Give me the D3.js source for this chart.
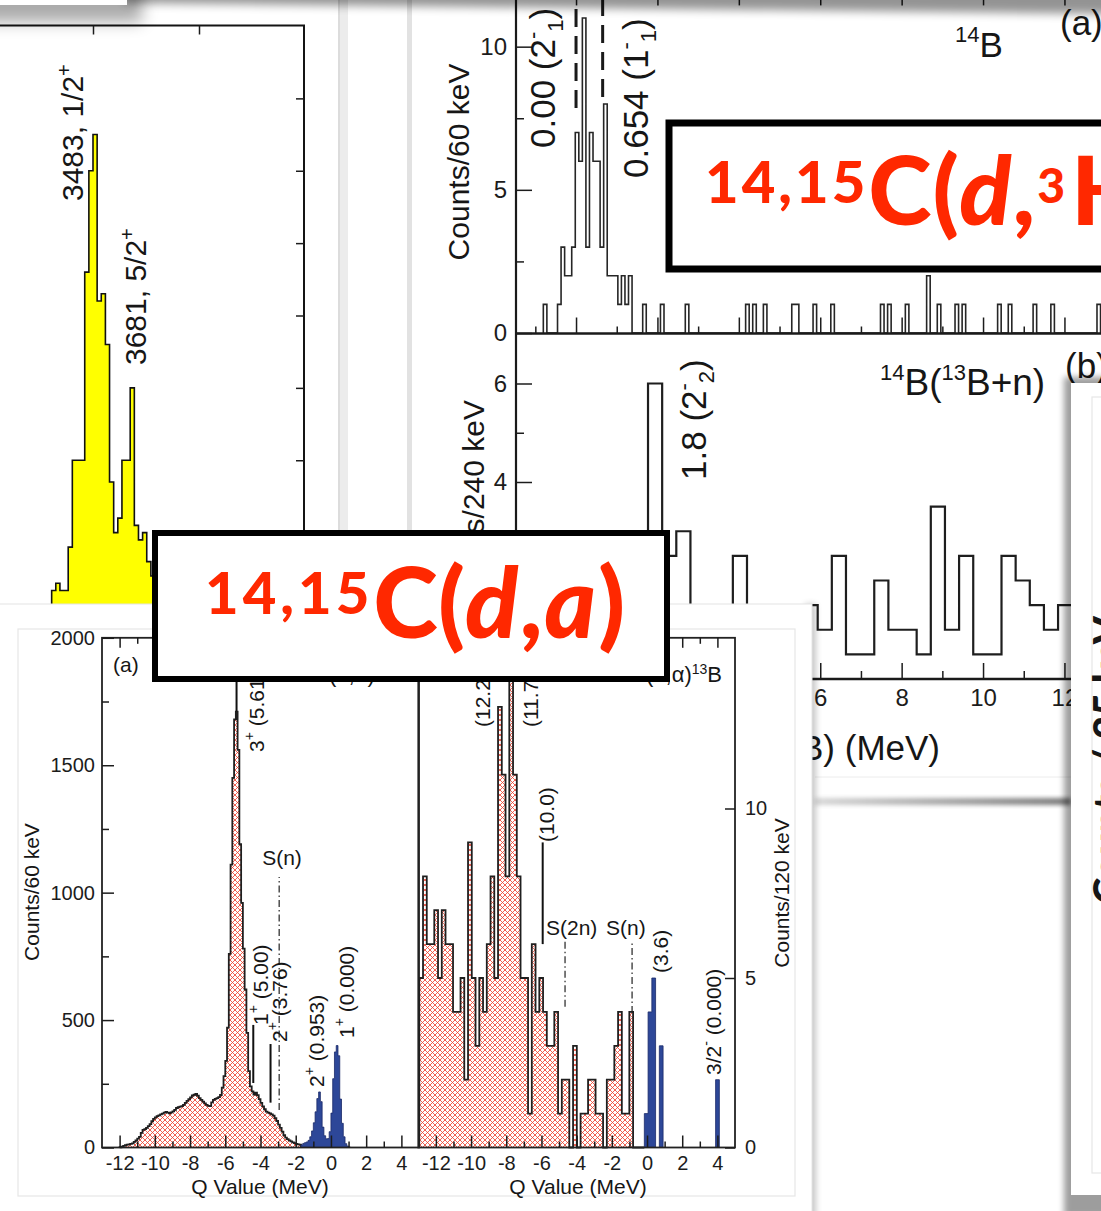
<!DOCTYPE html>
<html>
<head>
<meta charset="utf-8">
<title>Transfer-reaction spectra</title>
<script src="https://cdn.jsdelivr.net/npm/d3@7"></script>
<style>
  html, body { margin: 0; padding: 0; background: #fff; }
  svg { display: block; font-family: "Liberation Sans", Arial, Helvetica, sans-serif; }
</style>
</head>
<body>
<script>
// ---------------- data ----------------
// yellow spectrum: excitation energy (keV), fixed-width bins
const ySpecStart = 3305;
const ySpecBin = 19.5;
const ySpecCounts = [2, 3, 2, 2, 8, 20, 20, 20, 46, 60, 65, 42, 43, 36, 17, 10, 12, 20, 20, 30, 11, 9, 10, 6, 4, 3, 2, 1];
const ySpecTicksX = [3500, 4000];
const ySpecTicksY = [10, 20, 30, 40, 50, 60, 70];
const ySpecStates = ["3483, 1/2", "3681, 5/2"];

// 14B excitation spectrum (non-empty bins only)
const b14BinWidth = 0.0872;
const b14Energy = [-0.76, -0.41, -0.32, -0.24, -0.15, -0.06, 0.02, 0.11, 0.20, 0.29,
                   0.37, 0.46, 0.55, 0.64, 0.72, 0.81, 0.90, 0.98, 1.07, 1.16,
                   1.25, 1.33, 1.67, 2.13, 2.74, 4.18, 4.37, 4.62, 5.34, 5.43,
                   5.86, 6.28, 7.50, 7.67, 8.12, 8.64, 8.91, 9.32, 9.50, 10.38,
                   10.64, 11.25, 11.69, 12.81];
const b14Counts = [1, 1, 3, 2, 2, 3, 7, 6, 11, 3,
                   7, 6, 6, 3, 8, 2, 2, 2, 1, 2,
                   1, 2, 1, 1, 1, 1, 1, 1, 1, 1,
                   1, 1, 1, 1, 1, 2, 1, 1, 1, 1,
                   1, 1, 1, 1];
const b14StateEnergy = [0.00, 0.654];
const b14StateText = ["0.00 (2", "0.654 (1"];

// 14B -> 13B + n
const b13nStart = -1.358;
const b13nBin = 0.3474;
const b13nCounts = [0, 0.5, 1, 0.5, 1, 1.5, 1, 2, 2.5,
                    6, 2.5, 3, 1, 0.5, 1, 2.5, 1, 0.5, 1, 0.5, 1.5, 1, 2.5, 0.5, 0.5,
                    2, 1, 1, 0.5, 3.5, 1, 2.5, 0.5, 0.5, 2.5, 2, 1.5, 1, 1.5, 1];

const mevTicks = [0, 2, 4, 6, 8, 10, 12];

// 14C(d,alpha)12B Q-value spectrum, 0.1 MeV bins from -12 MeV
const c14Start = -12.0;
const c14Bin = 0.1;
const c14Counts = [
  1, 3, 6, 9, 11, 12, 14, 16, 22, 28,
  35, 42, 57, 69, 72, 77, 84, 92, 103, 112,
  118, 123, 126, 130, 133, 137, 140, 137, 134, 138,
  142, 148, 155, 158, 160, 162, 167, 175, 183, 190,
  197, 204, 207, 210, 203, 194, 187, 180, 173, 167,
  163, 162, 177, 187, 191, 194, 198, 206, 235, 280,
  340, 470, 760, 1110, 1450, 1680, 1710, 1560, 1190, 960,
  780, 620, 450, 300, 240, 220, 208, 215, 205, 190,
  175, 161, 150, 141, 137, 134, 130, 125, 115, 104,
  90, 77, 62, 48, 39, 33, 28, 24, 20, 17,
  14, 12, 11, 10, 16, 19, 22, 28, 42, 65,
  97, 140, 192, 218, 180, 80, 46, 34, 35, 62,
  135, 270, 375, 400, 360, 190, 95, 42, 15, 6,
  2, 0];
const c14BoundQ = -1.7;

// 15C(d,alpha)13B Q-value spectrum
const c15Start = -12.945;
const c15Bin = 0.2132;
const c15Counts = [
  5, 8, 6, 6, 7, 5, 7, 6, 6, 4, 4, 5, 2, 9, 5, 3, 5, 4, 6, 8,
  5, 13, 11, 8, 15, 11, 8, 5, 5, 1, 6, 4, 5, 4, 3, 3, 4, 1, 2, 2,
  0, 3, 0, 1, 1, 2, 2, 1, 1, 0, 2, 2, 3, 4, 1, 1, 4, 0, 0, 0,
  1, 4, 5, 0, 3, 0, 0, 0, 0, 0, 0, 0, 0, 0, 0, 0, 0, 0, 0, 2];
const c15BoundQ = -0.153;

const qMajor = [-12, -10, -8, -6, -4, -2, 0, 2, 4];
const qMinor = [-11, -9, -7, -5, -3, -1, 1, 3];

// marker lines: Q position, count range
const c14Levels = [{q: -5.36, lo: 1712, hi: 2150}, {q: -4.41, lo: 253, hi: 481}, {q: -3.43, lo: 176, hi: 406}];
const c14Sn = {q: -2.94, lo: 147, hi: 1061};
const c15Levels = [{q: -5.93, lo: 6, hi: 9}];
const c15Sep = [{q: -4.66, lo: 4.15, hi: 6.07}, {q: -0.85, lo: 3.97, hi: 6.07}];

// ---------------- helpers ----------------
const W = 1101, H = 1211;
const svg = d3.select("body").append("svg").attr("width", W).attr("height", H);
const defs = svg.append("defs");

function blur(id, sd) {
  defs.append("filter").attr("id", id)
    .attr("x", "-50%").attr("y", "-50%").attr("width", "200%").attr("height", "200%")
    .append("feGaussianBlur").attr("stdDeviation", sd);
}
blur("b2", 2); blur("b3", 3); blur("b5", 5); blur("b8", 8);

const hatch = defs.append("pattern").attr("id", "hatch")
  .attr("patternUnits", "userSpaceOnUse").attr("width", 5).attr("height", 5);
hatch.append("rect").attr("width", 5).attr("height", 5).attr("fill", "#fff");
hatch.append("path").attr("d", "M0,0L5,5M5,0L0,5").attr("stroke", "#ee4634").attr("stroke-width", 0.85);

const band = defs.append("linearGradient").attr("id", "bandGrad");
band.append("stop").attr("offset", "0%").attr("stop-color", "#d8d8d8");
band.append("stop").attr("offset", "100%").attr("stop-color", "#7a7a7a");

function stepPts(start, bin, counts, i0 = 0, i1 = counts.length) {
  const p = [[start + i0 * bin, 0]];
  for (let i = i0; i < i1; i++) p.push([start + i * bin, counts[i]]);
  p.push([start + i1 * bin, counts[i1 - 1]]);
  p.push([start + i1 * bin, 0]);
  return p;
}
function stepLine(x, y) {
  return d3.line().curve(d3.curveStepAfter).x(d => x(d[0])).y(d => y(d[1]));
}
function stepArea(x, y) {
  return d3.area().curve(d3.curveStepAfter).x(d => x(d[0])).y0(y(0)).y1(d => y(d[1]));
}

// text with raised / lowered pieces; parts are strings or {t, up, size, italic, ls}
function label(g, x, y, parts, o = {}) {
  const t = g.append("text")
    .attr("transform", `translate(${x},${y})` + (o.rot ? ` rotate(${o.rot})` : ""))
    .attr("font-size", o.size || 20)
    .attr("text-anchor", o.anchor || "start")
    .attr("fill", o.fill || "#161616");
  if (o.weight) t.attr("font-weight", o.weight);
  if (o.family) t.attr("font-family", o.family);
  if (o.ls) t.attr("letter-spacing", o.ls);
  let prev = 0;
  parts.forEach(p => {
    if (typeof p === "string") p = {t: p};
    const up = p.up || 0;
    const s = t.append("tspan").text(p.t);
    if (up !== prev) s.attr("dy", prev - up);
    if (p.size) s.attr("font-size", p.size);
    if (p.italic) s.attr("font-style", "italic");
    if (p.ls !== undefined) s.attr("letter-spacing", p.ls);
    prev = up;
  });
  return t;
}

const fmt = d => String(d);
function styleAxis(g, size) {
  g.attr("font-family", null).attr("font-size", size).attr("color", "#1c1c1c");
  g.select(".domain").remove();
  g.selectAll(".tick line").attr("stroke-width", 1.5);
}

// ---------------- page decorations behind figures ----------------
svg.append("rect").attr("x", 338).attr("y", 0).attr("width", 10).attr("height", 605).attr("fill", "#ececec");
svg.append("rect").attr("x", 338).attr("y", 0).attr("width", 2).attr("height", 605).attr("fill", "#dcdcdc");
svg.append("rect").attr("x", 407).attr("y", 0).attr("width", 5).attr("height", 605).attr("fill", "#e2e2e2");

// ---------------- 14B figure (top right) ----------------
const gTR = svg.append("g");
const xq = d3.scaleLinear().domain([-1.475, 13.5]).range([516, 1125.5]);
const ya = d3.scaleLinear().domain([0, 12]).range([333, -10.6]);
const yb = d3.scaleLinear().domain([0, 7]).range([679, 334.25]);

// panel (a) histogram on a regular bin grid
(function () {
  const origin = b14Energy[0];
  const n = Math.round((b14Energy[b14Energy.length - 1] - origin) / b14BinWidth) + 3;
  const dense = new Array(n).fill(0);
  b14Energy.forEach((e, i) => { dense[Math.round((e - origin) / b14BinWidth)] = b14Counts[i]; });
  gTR.append("path")
    .attr("d", stepLine(xq, ya)(stepPts(origin - b14BinWidth / 2, b14BinWidth, dense)))
    .attr("fill", "none").attr("stroke", "#262626").attr("stroke-width", 1.6);
})();

// panel (b) histogram
gTR.append("path")
  .attr("d", stepLine(xq, yb)(stepPts(b13nStart, b13nBin, b13nCounts)))
  .attr("fill", "none").attr("stroke", "#1e1e1e").attr("stroke-width", 2.2);

// frame
gTR.append("line").attr("x1", 516).attr("x2", 516).attr("y1", -12).attr("y2", 679)
  .attr("stroke", "#1a1a1a").attr("stroke-width", 2.2);
gTR.append("line").attr("x1", 516).attr("x2", 1125).attr("y1", 333.5).attr("y2", 333.5)
  .attr("stroke", "#1a1a1a").attr("stroke-width", 2.6);
gTR.append("line").attr("x1", 516).attr("x2", 1125).attr("y1", 679).attr("y2", 679)
  .attr("stroke", "#1a1a1a").attr("stroke-width", 2.4);

// ticks panel (a)
gTR.append("g").attr("transform", "translate(516,0)")
  .call(d3.axisLeft(ya).tickValues([0, 5, 10]).tickSize(-16).tickPadding(9).tickFormat(fmt))
  .call(g => styleAxis(g, 24));
gTR.append("g").attr("transform", "translate(516,0)")
  .call(d3.axisLeft(ya).tickValues([2.5, 7.5]).tickSize(-8).tickFormat(""))
  .call(g => styleAxis(g, 24));
[[mevTicks, 16], [[-1, 1, 3, 5, 7, 9, 11, 13], 7]].forEach(([vals, len]) => {
  gTR.append("g").attr("transform", "translate(0,333.5)")
    .call(d3.axisBottom(xq).tickValues(vals).tickSize(-len).tickFormat(""))
    .call(g => styleAxis(g, 24));
  gTR.append("g").attr("transform", `translate(0,${ya(12)})`)
    .call(d3.axisTop(xq).tickValues(vals).tickSize(-len).tickFormat(""))
    .call(g => styleAxis(g, 24));
});
// ticks panel (b)
gTR.append("g").attr("transform", "translate(516,0)")
  .call(d3.axisLeft(yb).tickValues([0, 2, 4, 6]).tickSize(-16).tickPadding(9).tickFormat(fmt))
  .call(g => styleAxis(g, 24));
gTR.append("g").attr("transform", "translate(516,0)")
  .call(d3.axisLeft(yb).tickValues([1, 3, 5]).tickSize(-8).tickFormat(""))
  .call(g => styleAxis(g, 24));
gTR.append("g").attr("transform", "translate(0,679)")
  .call(d3.axisBottom(xq).tickValues(mevTicks).tickSize(-16).tickPadding(10).tickFormat(fmt))
  .call(g => styleAxis(g, 24));
gTR.append("g").attr("transform", "translate(0,679)")
  .call(d3.axisBottom(xq).tickValues([-1, 1, 3, 5, 7, 9, 11, 13]).tickSize(-8).tickFormat(""))
  .call(g => styleAxis(g, 24));

// axis titles
label(gTR, 469, 162, ["Counts/60 keV"], {rot: -90, size: 30, anchor: "middle"});
label(gTR, 484, 400, ["Counts/240 keV"], {rot: -90, size: 30, anchor: "end"});
label(gTR, 940, 760, ["E", {t: "x", up: -7, size: 22}, "(", {t: "14", up: 14, size: 22}, "B) (MeV)"], {size: 35, anchor: "end"});

// state markers in panel (a)
b14StateEnergy.forEach((e, i) => {
  gTR.append("line").attr("x1", xq(e)).attr("x2", xq(e))
    .attr("y1", i === 0 ? 108 : 97).attr("y2", -12)
    .attr("stroke", "#1a1a1a").attr("stroke-width", 3).attr("stroke-dasharray", "18 9");
});
label(gTR, 555, 148, [b14StateText[0], {t: "-", up: 15, size: 22}, {t: "1", up: -8, size: 22}, ")"], {rot: -90, size: 35});
label(gTR, 648, 178, [b14StateText[1], {t: "-", up: 15, size: 22}, {t: "1", up: -8, size: 22}, ")"], {rot: -90, size: 35});
label(gTR, 706, 480, ["1.8 (2", {t: "-", up: 15, size: 22}, {t: "2", up: -8, size: 22}, ")"], {rot: -90, size: 35});

label(gTR, 955, 57, [{t: "14", up: 15, size: 22}, "B"], {size: 35});
label(gTR, 1060, 35, ["(a)"], {size: 35});
label(gTR, 880, 395, [{t: "14", up: 15, size: 22}, "B(", {t: "13", up: 15, size: 22}, "B+n)"], {size: 37});
label(gTR, 1065, 378, ["(b)"], {size: 35});

// ---------------- title box (d,3He) ----------------
const gBox1 = svg.append("g");
gBox1.append("rect").attr("x", 669).attr("y", 123).attr("width", 520).attr("height", 146)
  .attr("fill", "#fff").attr("stroke", "#000").attr("stroke-width", 7);
label(gBox1, 705, 225,
  [{t: "14,15", up: 22, size: 58, ls: 3}, {t: "C", ls: 1}, {t: "(", ls: 0}, {t: "d", italic: true, ls: 1}, {t: ",", ls: 2},
   {t: "3", up: 22, size: 48, ls: 6}, {t: "He)", ls: 2}],
  {size: 96, weight: 900, fill: "#ff2800", family: "Lato, 'Open Sans', sans-serif"});

// ---------------- yellow spectrum (top left) ----------------
const gY = svg.append("g");
const xs = d3.scaleLinear().domain([3500, 4000]).range([93, 199]);
const ys = d3.scaleLinear().domain([0, 80]).range([605, 26]);
gY.append("path")
  .attr("d", stepArea(xs, ys)(stepPts(ySpecStart, ySpecBin, ySpecCounts)))
  .attr("fill", "#ffff00");
gY.append("path")
  .attr("d", stepLine(xs, ys)(stepPts(ySpecStart, ySpecBin, ySpecCounts)))
  .attr("fill", "none").attr("stroke", "#111").attr("stroke-width", 1.6);
gY.append("path").attr("d", "M-5,25.5H304V610")
  .attr("fill", "none").attr("stroke", "#141414").attr("stroke-width", 2);
gY.append("g").attr("transform", "translate(0,25.5)")
  .call(d3.axisTop(xs).tickValues(ySpecTicksX).tickSize(-9).tickFormat(""))
  .call(g => styleAxis(g, 20));
gY.append("g").attr("transform", "translate(304,0)")
  .call(d3.axisRight(ys).tickValues(ySpecTicksY).tickSize(-8).tickFormat(""))
  .call(g => styleAxis(g, 20));
label(gY, 83, 201, [ySpecStates[0], {t: "+", up: 12, size: 20}], {rot: -90, size: 30});
label(gY, 146, 365, [ySpecStates[1], {t: "+", up: 12, size: 20}], {rot: -90, size: 30});

// ---------------- shadows from cards stacked above ----------------
svg.append("path").attr("d", "M125,-40H1125V14L125,3Z")
  .attr("fill", "#000").attr("opacity", 0.42).attr("filter", "url(#b5)");
svg.append("rect").attr("x", -30).attr("y", -40).attr("width", 172).attr("height", 62)
  .attr("fill", "#000").attr("opacity", 0.33).attr("filter", "url(#b8)");
svg.append("rect").attr("x", -30).attr("y", -40).attr("width", 157).attr("height", 45).attr("fill", "#fff");
svg.append("line").attr("x1", 815).attr("x2", 1071).attr("y1", 777).attr("y2", 777)
  .attr("stroke", "#ececec").attr("stroke-width", 1);
svg.append("rect").attr("x", 815).attr("y", 798).attr("width", 256).attr("height", 7)
  .attr("fill", "url(#bandGrad)").attr("filter", "url(#b2)");

// ---------------- (d,alpha) figure card ----------------
svg.append("rect").attr("x", 805).attr("y", 604).attr("width", 11).attr("height", 620)
  .attr("fill", "#000").attr("opacity", 0.22).attr("filter", "url(#b3)");
svg.append("rect").attr("x", -10).attr("y", 604).attr("width", 822).attr("height", 620)
  .attr("fill", "#fff").attr("stroke", "#e4e4e4").attr("stroke-width", 1);
svg.append("rect").attr("x", 18).attr("y", 629).attr("width", 777).attr("height", 567)
  .attr("fill", "none").attr("stroke", "#e6e6e6").attr("stroke-width", 1.2);

const gB = svg.append("g");
const xL = d3.scaleLinear().domain([-13, 5]).range([102, 419]);
const xR = d3.scaleLinear().domain([-13, 5]).range([418.3, 735]);
const yL = d3.scaleLinear().domain([0, 2000]).range([1147.5, 637.8]);
const yR = d3.scaleLinear().domain([0, 10]).range([1147.5, 808.5]);

function drawSpectrum(x, y, start, bin, counts, boundQ) {
  const iB = Math.round((boundQ - start) / bin);
  const red = stepPts(start, bin, counts, 0, iB);
  const blue = stepPts(start, bin, counts, iB, counts.length);
  gB.append("path").attr("d", stepArea(x, y)(red)).attr("fill", "url(#hatch)");
  gB.append("path").attr("d", stepLine(x, y)(red))
    .attr("fill", "none").attr("stroke", "#1f1f1f").attr("stroke-width", 1.8);
  gB.append("path").attr("d", stepArea(x, y)(blue))
    .attr("fill", "#2d4798").attr("stroke", "#1b2a68").attr("stroke-width", 0.8);
}
drawSpectrum(xL, yL, c14Start, c14Bin, c14Counts, c14BoundQ);
drawSpectrum(xR, yR, c15Start, c15Bin, c15Counts, c15BoundQ);

// frames
gB.append("rect").attr("x", 102).attr("y", 637.8).attr("width", 317).attr("height", 509.7)
  .attr("fill", "none").attr("stroke", "#222").attr("stroke-width", 1.8);
gB.append("rect").attr("x", 418.3).attr("y", 637.8).attr("width", 316.7).attr("height", 509.7)
  .attr("fill", "none").attr("stroke", "#222").attr("stroke-width", 1.8);

[xL, xR].forEach(x => {
  gB.append("g").attr("transform", "translate(0,1147.5)")
    .call(d3.axisBottom(x).tickValues(qMajor).tickSize(-12).tickPadding(8).tickFormat(fmt))
    .call(g => styleAxis(g, 20));
  gB.append("g").attr("transform", "translate(0,1147.5)")
    .call(d3.axisBottom(x).tickValues(qMinor).tickSize(-6).tickFormat(""))
    .call(g => styleAxis(g, 20));
  gB.append("g").attr("transform", "translate(0,637.8)")
    .call(d3.axisTop(x).tickValues(qMajor).tickSize(-10).tickFormat(""))
    .call(g => styleAxis(g, 20));
  gB.append("g").attr("transform", "translate(0,637.8)")
    .call(d3.axisTop(x).tickValues(qMinor).tickSize(-6).tickFormat(""))
    .call(g => styleAxis(g, 20));
});
gB.append("g").attr("transform", "translate(102,0)")
  .call(d3.axisLeft(yL).tickValues([0, 500, 1000, 1500, 2000]).tickSize(-12).tickPadding(7).tickFormat(fmt))
  .call(g => styleAxis(g, 20));
gB.append("g").attr("transform", "translate(102,0)")
  .call(d3.axisLeft(yL).tickValues([250, 750, 1250, 1750]).tickSize(-7).tickFormat(""))
  .call(g => styleAxis(g, 20));
gB.append("g").attr("transform", "translate(735,0)")
  .call(d3.axisRight(yR).tickValues([0, 5, 10]).tickSize(-10).tickPadding(10).tickFormat(fmt))
  .call(g => styleAxis(g, 20));

// axis titles
label(gB, 260, 1194, ["Q Value (MeV)"], {size: 21, anchor: "middle"});
label(gB, 578, 1194, ["Q Value (MeV)"], {size: 21, anchor: "middle"});
label(gB, 39, 892, ["Counts/60 keV"], {rot: -90, size: 21, anchor: "middle"});
label(gB, 789, 893, ["Counts/120 keV"], {rot: -90, size: 21, anchor: "middle"});

// level markers, left spectrum
c14Levels.forEach(d => {
  gB.append("line").attr("x1", xL(d.q)).attr("x2", xL(d.q)).attr("y1", yL(d.lo)).attr("y2", yL(d.hi))
    .attr("stroke", "#111").attr("stroke-width", 2);
});
gB.append("line").attr("x1", xL(c14Sn.q)).attr("x2", xL(c14Sn.q)).attr("y1", yL(c14Sn.lo)).attr("y2", yL(c14Sn.hi))
  .attr("stroke", "#222").attr("stroke-width", 1.2).attr("stroke-dasharray", "7 3 1.5 3");
label(gB, 264, 752, ["3", {t: "+", up: 10, size: 14}, " (5.61)"], {rot: -90, size: 21});
label(gB, 268, 1025, ["1", {t: "+", up: 10, size: 14}, " (5.00)"], {rot: -90, size: 21});
label(gB, 287, 1042, ["2", {t: "+", up: 10, size: 14}, " (3.76)"], {rot: -90, size: 21});
label(gB, 282, 865, ["S(n)"], {size: 21, anchor: "middle"});
label(gB, 324, 1087, ["2", {t: "+", up: 10, size: 14}, " (0.953)"], {rot: -90, size: 21});
label(gB, 354, 1038, ["1", {t: "+", up: 10, size: 14}, " (0.000)"], {rot: -90, size: 21});
label(gB, 113, 672, ["(a)"], {size: 21});
label(gB, 405, 682, [{t: "14", up: 8, size: 14}, "C(d,α)", {t: "12", up: 8, size: 14}, "B"], {size: 22, anchor: "end"});

// level markers, right spectrum
c15Levels.forEach(d => {
  gB.append("line").attr("x1", xR(d.q)).attr("x2", xR(d.q)).attr("y1", yR(d.lo)).attr("y2", yR(d.hi))
    .attr("stroke", "#111").attr("stroke-width", 2);
});
c15Sep.forEach(d => {
  gB.append("line").attr("x1", xR(d.q)).attr("x2", xR(d.q)).attr("y1", yR(d.lo)).attr("y2", yR(d.hi))
    .attr("stroke", "#222").attr("stroke-width", 1.2).attr("stroke-dasharray", "7 3 1.5 3");
});
label(gB, 490, 727, ["(12.2)"], {rot: -90, size: 21});
label(gB, 538, 727, ["(11.7)"], {rot: -90, size: 21});
label(gB, 554, 842, ["(10.0)"], {rot: -90, size: 21});
label(gB, 546, 935, ["S(2n)"], {size: 21});
label(gB, 606, 935, ["S(n)"], {size: 21});
label(gB, 668, 973, ["(3.6)"], {rot: -90, size: 21});
label(gB, 721, 1075, ["3/2", {t: "-", up: 10, size: 14}, " (0.000)"], {rot: -90, size: 21});
label(gB, 722, 682, [{t: "15", up: 8, size: 14}, "C(d,α)", {t: "13", up: 8, size: 14}, "B"], {size: 22, anchor: "end"});

// ---------------- title box (d,a) ----------------
const gBox2 = svg.append("g");
gBox2.append("rect").attr("x", 155).attr("y", 533).attr("width", 512).attr("height", 146)
  .attr("fill", "#fff").attr("stroke", "#000").attr("stroke-width", 6);
label(gBox2, 205, 638,
  [{t: "14,15", up: 24, size: 58, ls: 4}, {t: "C", ls: 0}, {t: "(", ls: 0}, {t: "d", italic: true, ls: 1}, {t: ",", ls: 2},
   {t: "a", italic: true, ls: 2}, {t: ")", ls: 0}],
  {size: 98, weight: 900, fill: "#ff2800", family: "Lato, 'Open Sans', sans-serif"});

// ---------------- card on the right edge ----------------
svg.append("rect").attr("x", 1064).attr("y", 377).attr("width", 80).attr("height", 840)
  .attr("fill", "#000").attr("opacity", 0.38).attr("filter", "url(#b3)");
svg.append("rect").attr("x", 1071).attr("y", 383).attr("width", 60).attr("height", 812).attr("fill", "#fff");
svg.append("rect").attr("x", 1092).attr("y", 397).attr("width", 40).attr("height", 776)
  .attr("fill", "none").attr("stroke", "#e6e6e6").attr("stroke-width", 1.2);
label(svg, 1122, 760, ["Counts / 25 keV"], {rot: -90, size: 40, weight: 900, anchor: "middle",
  family: "Lato, 'Open Sans', sans-serif"});
</script>
</body>
</html>
